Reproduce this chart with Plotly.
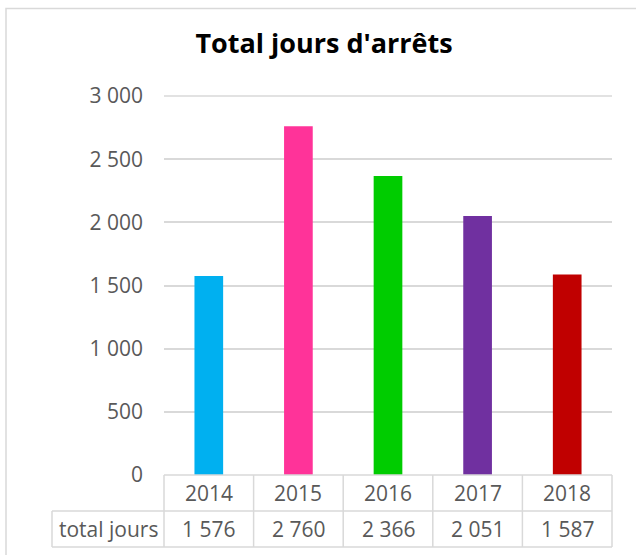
import plotly.graph_objects as go

years = ["2014", "2015", "2016", "2017", "2018"]
total_jours = [1576, 2760, 2366, 2051, 1587]
value_labels = ["1 576", "2 760", "2 366", "2 051", "1 587"]
bar_colors = ["#00B0F0", "#FF3399", "#00CC00", "#7030A0", "#C00000"]
y_ticks = [0, 500, 1000, 1500, 2000, 2500, 3000]
row_label = "total jours"
title_text = "Total jours d'arrêts"

W, H = 636, 555
L, R, T, B = 164, 24, 96, 80
pw = W - L - R
ph = H - T - B

def px_x(px):
    return (px - L) / pw

def px_y(py):
    return (H - B - py) / ph

FONT = "Open Sans, Lato, sans-serif"
GREY = "#595959"
LINE = "#D9D9D9"
FS = 21

fig = go.Figure()
fig.add_trace(go.Bar(
    x=list(range(len(years))), y=total_jours,
    marker=dict(color=bar_colors, line=dict(width=0)),
    width=0.32, showlegend=False, hoverinfo="x+y",
))

shapes = []
ann = []
n = len(years)
# outer chart border
shapes.append(dict(type="rect", xref="paper", yref="paper",
                   x0=px_x(6), x1=px_x(650), y0=px_y(570), y1=px_y(8.5),
                   line=dict(color=LINE, width=1.5), layer="below"))
# top gridline (plotly drops gridlines at the range edge)
shapes.append(dict(type="line", xref="paper", yref="paper", x0=0, x1=1,
                   y0=1, y1=1, line=dict(color=LINE, width=1.5), layer="above"))
# table lines
row_top, row_mid, row_bot = 475, 511, 547
label_left = 52
shapes.append(dict(type="line", xref="paper", yref="paper", x0=0, x1=1,
                   y0=px_y(row_top), y1=px_y(row_top), line=dict(color=LINE, width=1.5)))
for py in (row_mid, row_bot):
    shapes.append(dict(type="line", xref="paper", yref="paper", x0=px_x(label_left), x1=1,
                       y0=px_y(py), y1=px_y(py), line=dict(color=LINE, width=1.5)))
for i in range(n + 1):
    shapes.append(dict(type="line", xref="paper", yref="paper", x0=i / n, x1=i / n,
                       y0=px_y(row_top), y1=px_y(row_bot), line=dict(color=LINE, width=1.5)))
shapes.append(dict(type="line", xref="paper", yref="paper", x0=px_x(label_left), x1=px_x(label_left),
                   y0=px_y(row_mid), y1=px_y(row_bot), line=dict(color=LINE, width=1.5)))

for i, (yr, lab) in enumerate(zip(years, value_labels)):
    cx = (i + 0.5) / n
    ann.append(dict(x=cx, y=px_y((row_top + row_mid) / 2), xref="paper", yref="paper",
                    text=yr, showarrow=False, font=dict(size=FS, color=GREY, family=FONT),
                    xanchor="center", yanchor="middle"))
    ann.append(dict(x=cx, y=px_y((row_mid + row_bot) / 2), xref="paper", yref="paper",
                    text=lab, showarrow=False, font=dict(size=FS, color=GREY, family=FONT),
                    xanchor="center", yanchor="middle"))
ann.append(dict(x=px_x((label_left + L) / 2), y=px_y((row_mid + row_bot) / 2), xref="paper", yref="paper",
                text=row_label, showarrow=False, font=dict(size=FS, color=GREY, family=FONT),
                xanchor="center", yanchor="middle"))

fig.update_layout(
    width=W, height=H,
    margin=dict(l=L, r=R, t=T, b=B),
    paper_bgcolor="white", plot_bgcolor="white",
    separators=", ",
    title=dict(text="<b>" + title_text + "</b>", x=324 / W, xanchor="center",
               y=1 - 44 / H, yanchor="middle",
               font=dict(size=27, color="black", family=FONT)),
    xaxis=dict(range=[-0.5, n - 0.5], showticklabels=False, showgrid=False,
               zeroline=False, showline=False, ticks=""),
    yaxis=dict(range=[0, 3000], tickvals=y_ticks,
               tickformat=",d", showgrid=True,
               gridcolor=LINE, gridwidth=1.5, zeroline=False, showline=False, ticks="",
               tickfont=dict(size=FS, color=GREY, family=FONT), ticklabelstandoff=20),
    bargap=0.68,
    shapes=shapes, annotations=ann,
)
fig.write_html("out.html", config={"displayModeBar": False},
               post_script="document.body.style.margin='0px';")
